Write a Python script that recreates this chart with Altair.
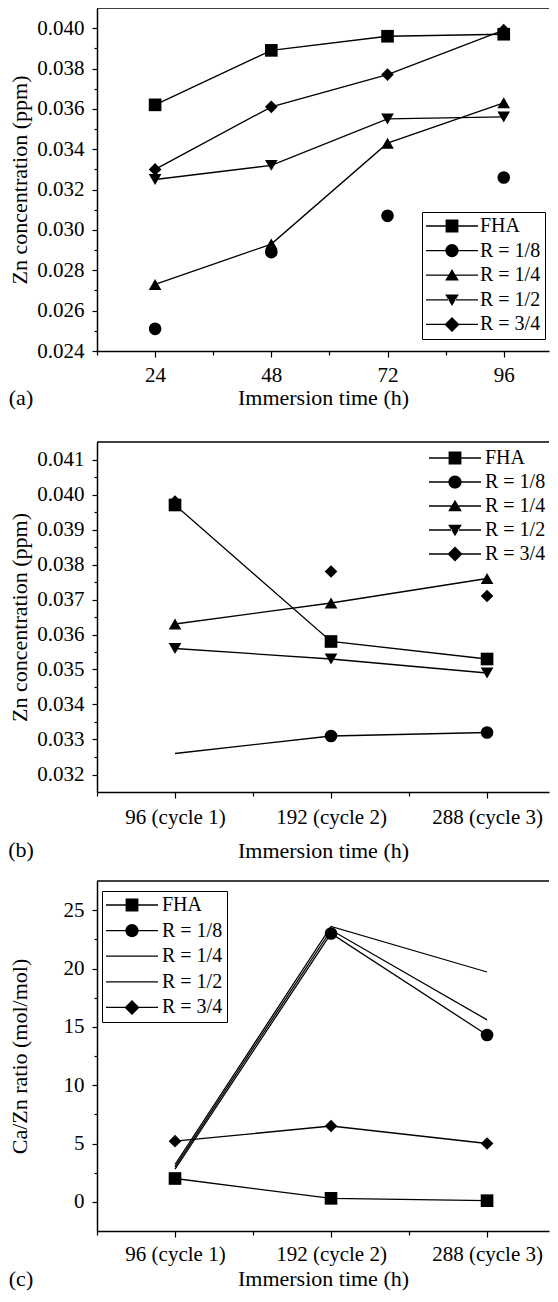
import altair as alt
import pandas as pd

FONT = "Liberation Serif"

series = ["FHA", "R = 1/8", "R = 1/4", "R = 1/2", "R = 3/4"]
marker_shapes = ["square", "circle", "triangle-up", "triangle-down", "diamond"]

# ---------------- panel (a): Zn concentration vs immersion time
a_hours = [24, 48, 72, 96]
a_fha = [0.0362, 0.0389, 0.0396, 0.0397]
a_r18 = [0.0251, 0.0289, 0.0307, 0.0326]
a_r14 = [0.0273, 0.0293, 0.0343, 0.0363]
a_r12 = [0.0325, 0.0332, 0.0355, 0.0356]
a_r34 = [0.0330, 0.0361, 0.0377, 0.0399]
a_has_line = [True, False, True, True, True]

# ---------------- panel (b): Zn concentration per cycle
cycle_pos = [1, 2, 3]
cycle_labels = ["96 (cycle 1)", "192 (cycle 2)", "288 (cycle 3)"]
b_fha = [0.0397, 0.0358, 0.0353]
b_r18 = [0.0326, 0.0331, 0.0332]
b_r14 = [0.0363, 0.0369, 0.0376]
b_r12 = [0.0356, 0.0353, 0.0349]
b_r34 = [0.0398, 0.0378, 0.0371]
b_has_line = [True, True, True, True, False]
b_r18_marker = [False, True, True]

# ---------------- panel (c): Ca/Zn ratio per cycle
c_fha = [2.0, 0.3, 0.1]
c_r18 = [2.8, 23.0, 14.3]
c_r14 = [3.2, 23.6, 19.7]
c_r12 = [3.0, 23.3, 15.6]
c_r34 = [5.2, 6.5, 5.0]
c_has_line = [True, True, True, True, True]
c_r18_marker = [False, True, True]

# tick values
a_y_major = [0.024, 0.026, 0.028, 0.030, 0.032, 0.034, 0.036, 0.038, 0.040]
a_y_minor = [0.025, 0.027, 0.029, 0.031, 0.033, 0.035, 0.037, 0.039]
b_y_major = [0.032, 0.033, 0.034, 0.035, 0.036, 0.037, 0.038, 0.039, 0.040, 0.041]
b_y_minor = [0.0325, 0.0335, 0.0345, 0.0355, 0.0365, 0.0375, 0.0385, 0.0395, 0.0405]
c_y_major = [0, 5, 10, 15, 20, 25]
c_y_minor = [2.5, 7.5, 12.5, 17.5, 22.5]
a_x_major = [24, 48, 72, 96]
a_x_minor = [12, 36, 60, 84]
cyc_x_minor = [0.5, 1.5, 2.5]


def frames(xs, values_list, has_line, marker_masks):
    line_rows, pt_rows = [], []
    for s, vals, hl, mask in zip(series, values_list, has_line, marker_masks):
        for x, v, m in zip(xs, vals, mask):
            if hl:
                line_rows.append({"series": s, "x": x, "y": v})
            if m:
                pt_rows.append({"series": s, "x": x, "y": v})
    return pd.DataFrame(line_rows), pd.DataFrame(pt_rows)


ALL4 = [True] * 4
ALL3 = [True] * 3
NONE3 = [False] * 3
a_line, a_pts = frames(a_hours, [a_fha, a_r18, a_r14, a_r12, a_r34], a_has_line, [ALL4] * 5)
b_line, b_pts = frames(cycle_pos, [b_fha, b_r18, b_r14, b_r12, b_r34], b_has_line,
                       [ALL3, b_r18_marker, ALL3, ALL3, ALL3])
c_line, c_pts = frames(cycle_pos, [c_fha, c_r18, c_r14, c_r12, c_r34], c_has_line,
                       [ALL3, c_r18_marker, NONE3, NONE3, ALL3])

# legend symbols (unit = 10 px): a thin filled bar from -1.0 to 4.2 with the marker at +1.6
C = 1.6
def bar(x0, x1):
    return f"M{x0:.2f},-0.065H{x1:.2f}V0.065H{x0:.2f}Z"
def with_gap(g):
    return bar(-1.0, C - g) + bar(C + g, 4.2)
glyph = {
    "square": f"M{C-0.64:.2f},-0.64H{C+0.64:.2f}V0.64H{C-0.64:.2f}Z",
    "circle": f"M{C+0.66:.2f},0A0.66,0.66,0,1,1,{C-0.66:.2f},0A0.66,0.66,0,1,1,{C+0.66:.2f},0Z",
    "triangle-up": f"M{C:.2f},-0.62L{C+0.68:.2f},0.52L{C-0.68:.2f},0.52Z",
    "triangle-down": f"M{C:.2f},0.62L{C+0.68:.2f},-0.52L{C-0.68:.2f},-0.52Z",
    "diamond": f"M{C:.2f},-0.75L{C+0.75:.2f},0L{C:.2f},0.75L{C-0.75:.2f},0Z",
}
gaps = {"square": 0.5, "circle": 0.5, "triangle-up": 0.3, "triangle-down": 0.3, "diamond": 0.5}
legend_full = [with_gap(gaps[s]) + glyph[s] for s in marker_shapes]
legend_c = [with_gap(0.5) + glyph["square"], with_gap(0.5) + glyph["circle"],
            bar(-1.0, 4.2), bar(-1.0, 4.2), with_gap(0.5) + glyph["diamond"]]

cyc_expr = " : ".join(
    [f"datum.value == {p} ? '{l}'" for p, l in zip(cycle_pos, cycle_labels)]) + " : ''"

W = 452


def panel(line_df, pt_df, xdom, H, ydom, y_major, y_minor, y_fmt, y_title,
          x_major, x_minor, x_label_expr, x_label_pad, x_title_y,
          legend_paths, legend_kw, tag, spacer=None):
    xs = alt.Scale(domain=xdom, nice=False, zero=False)
    ys = alt.Scale(domain=ydom, nice=False, zero=False)
    xk = dict(values=x_major, orient="bottom", title="Immersion time (h)", tickSize=6,
              labelPadding=x_label_pad, labelFontSize=21, titleFontSize=22,
              titleFontWeight="normal", titleY=x_title_y, titleBaseline="top",
              labelFlush=False, domainWidth=1.5, tickWidth=1.2)
    if x_label_expr:
        xk["labelExpr"] = x_label_expr
    x_major_axis = alt.Axis(**xk)
    y_major_axis = alt.Axis(values=y_major, orient="left", format=y_fmt, title=y_title,
                            tickSize=5, labelPadding=8, labelFontSize=21, titleFontSize=22,
                            titleFontWeight="normal", titleX=-66, titleY=H / 2,
                            titleBaseline="bottom", domainWidth=1.5, tickWidth=1.2)
    x_minor_axis = alt.Axis(values=x_minor, orient="bottom", labels=False, domain=False,
                            title=None, tickSize=4, tickWidth=1.2)
    y_minor_axis = alt.Axis(values=y_minor, orient="left", labels=False, domain=False,
                            title=None, tickSize=3, tickWidth=1.2)

    border = alt.Chart(pd.DataFrame({"k": [0]})).mark_rule(
        color="black", strokeWidth=1.5).encode(
        x=alt.value(0), x2=alt.value(W), y=alt.value(0))

    lines = alt.Chart(line_df).mark_line(color="black", strokeWidth=1.3).encode(
        x=alt.X("x:Q", scale=xs, axis=x_minor_axis),
        y=alt.Y("y:Q", scale=ys, axis=y_minor_axis),
        detail="series:N", order="x:Q")

    points = alt.Chart(pt_df).mark_point(filled=True, size=160, color="black", opacity=1).encode(
        x=alt.X("x:Q", scale=xs, axis=x_major_axis),
        y=alt.Y("y:Q", scale=ys, axis=y_major_axis),
        shape=alt.Shape("series:N", scale=alt.Scale(domain=series, range=marker_shapes),
                        legend=None))

    lg = alt.Legend(title=None, orient="none", padding=4, symbolSize=400,
                    symbolStrokeWidth=0, symbolFillColor="black",
                    symbolOpacity=1, labelFontSize=20, labelFont=FONT, labelColor="black",
                    **legend_kw)
    legend_layer = alt.Chart(pd.DataFrame({"series": series})).transform_filter(
        "false").mark_point(filled=True, color="black").encode(
        x=alt.value(0), y=alt.value(0),
        shape=alt.Shape("series:N", scale=alt.Scale(domain=series, range=legend_paths),
                        legend=lg))

    label = alt.Chart(pd.DataFrame({"t": [tag]})).mark_text(
        font=FONT, fontSize=22, align="center", baseline="top", color="black").encode(
        x=alt.value(-76), y=alt.value(H + x_title_y), text="t:N")

    layers = [border, lines, points, legend_layer, label]
    if spacer is not None:
        layers.append(alt.Chart(pd.DataFrame({"k": [0]})).mark_rule(opacity=0).encode(
            x=alt.value(0), x2=alt.value(1), y=alt.value(H + spacer)))

    return alt.layer(*layers).resolve_scale(
        shape="independent").resolve_axis(x="independent", y="independent").properties(
        width=W, height=H)


pa = panel(a_line, a_pts, [12, 105.35], 343, [0.024, 0.041], a_y_major, a_y_minor, ".3f",
           "Zn concentration (ppm)", a_x_major, a_x_minor, None, 7, 36.5, legend_full,
           dict(legendX=325, legendY=204, rowPadding=4.6, labelOffset=34,
                strokeColor="black"), "(a)", spacer=71)
pb = panel(b_line, b_pts, [0.5, 3.397], 350, [0.0315, 0.0415], b_y_major, b_y_minor, ".3f",
           "Zn concentration (ppm)", cycle_pos, cyc_x_minor, cyc_expr, 8, 48, legend_full,
           dict(legendX=328, legendY=2, rowPadding=4, labelOffset=36), "(b)")
pc = panel(c_line, c_pts, [0.5, 3.397], 350, [-2.5, 27.5], c_y_major, c_y_minor, "d",
           "Ca/Zn ratio (mol/mol)", cycle_pos, cyc_x_minor, cyc_expr, 6, 37.5, legend_c,
           dict(legendX=5, legendY=10, rowPadding=5.6, labelOffset=36,
                strokeColor="black"), "(c)")

chart = alt.vconcat(pa, pb, pc, spacing=19).properties(
    padding={"left": 0, "top": -1, "right": 0, "bottom": 5}
).configure_view(stroke=None).configure_axis(
    domainColor="black", tickColor="black", labelColor="black", titleColor="black",
    labelFont=FONT, titleFont=FONT, grid=False
).configure_text(font=FONT)

chart.save("out.html", embed_options={"renderer": "svg", "actions": False})
